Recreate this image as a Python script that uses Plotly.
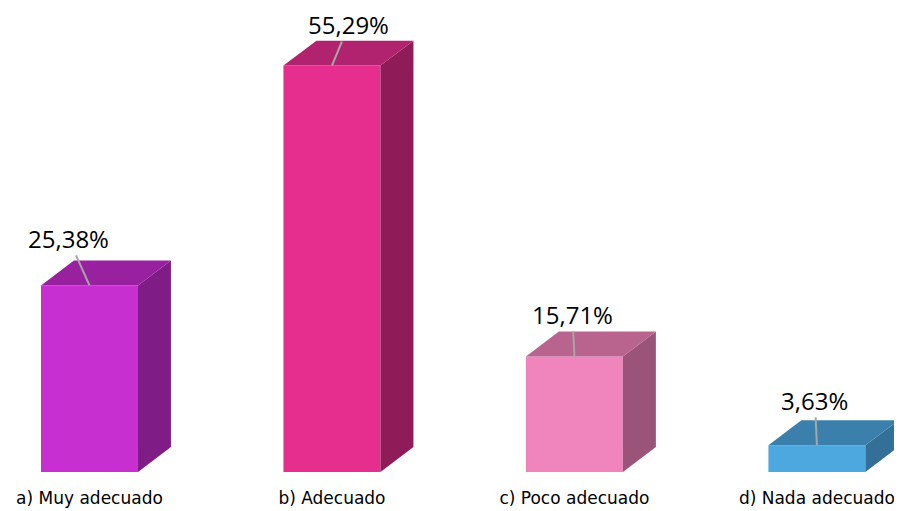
import plotly.graph_objects as go

categories = ["a) Muy adecuado", "b) Adecuado", "c) Poco adecuado", "d) Nada adecuado"]
values = [25.38, 55.29, 15.71, 3.63]
labels = ["25,38%", "55,29%", "15,71%", "3,63%"]

front_colors = ["#C82FD1", "#E52E8E", "#F084BD", "#4CA8DE"]
top_colors = ["#98219F", "#B1236F", "#B8648F", "#3B80AD"]
side_colors = ["#7F1C86", "#8F1B58", "#9B5479", "#336F96"]
# label offsets (px) from bar top centre
label_dx = [-21, 17, -2, -2]
label_dy = [-47, -41, -42, -45]

W = 0.4      # bar width in category units
DX = 0.136   # depth in x units
DY = 3.4     # depth in y units

xs = list(range(len(categories)))
fig = go.Figure()

for i, v in enumerate(values):
    x0, x1 = xs[i] - W / 2, xs[i] + W / 2
    # side face
    fig.add_trace(go.Scatter(
        x=[x1, x1 + DX, x1 + DX, x1, x1], y=[0, DY, v + DY, v, 0],
        fill="toself", fillcolor=side_colors[i], mode="lines",
        line=dict(width=0, color=side_colors[i]), hoverinfo="skip", showlegend=False))
    # top face
    fig.add_trace(go.Scatter(
        x=[x0, x0 + DX, x1 + DX, x1, x0], y=[v, v + DY, v + DY, v, v],
        fill="toself", fillcolor=top_colors[i], mode="lines",
        line=dict(width=0, color=top_colors[i]), hoverinfo="skip", showlegend=False))

fig.add_trace(go.Bar(x=xs, y=values, width=W, marker=dict(color=front_colors, line=dict(width=0)),
                     hoverinfo="skip", showlegend=False))

for i, v in enumerate(values):
    fig.add_annotation(x=xs[i], y=v, text=labels[i], showarrow=True, arrowhead=0,
                       arrowcolor="#A6A6A6", arrowwidth=2, ax=label_dx[i], ay=label_dy[i],
                       font=dict(size=24, color="#000000", family="Open Sans"),
                       standoff=0, borderpad=0)

fig.update_layout(
    width=902, height=511, margin=dict(l=0, r=0, t=0, b=47),
    paper_bgcolor="white", plot_bgcolor="white",
    xaxis=dict(range=[-0.336, 3.384], tickvals=xs, ticktext=categories, showgrid=False,
               zeroline=False, showline=False, ticks="", ticklabelstandoff=14,
               tickfont=dict(size=17, family="DejaVu Sans", color="#000000")),
    yaxis=dict(range=[0, 63.13], visible=False),
    barmode="overlay",
)

fig.write_html("out.html")
